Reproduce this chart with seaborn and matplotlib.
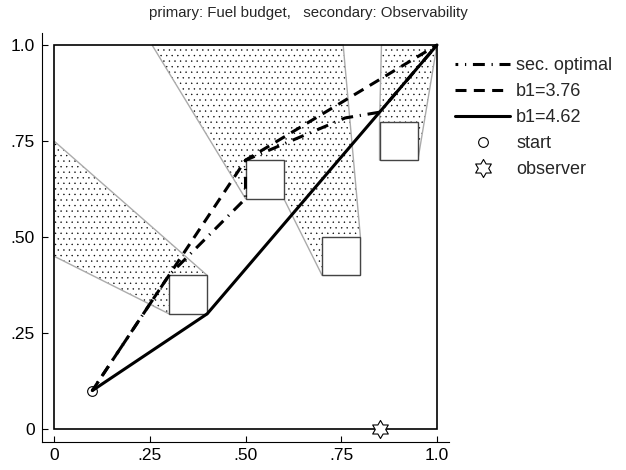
import matplotlib.pyplot as plt
import seaborn as sns
import numpy as np
from matplotlib.patches import Rectangle, Polygon
from matplotlib.path import Path

# %%
start = (0.1, 0.1)
observer = (0.85, 0.0)

obstacle_x = [0.3, 0.5, 0.7, 0.85]
obstacle_y = [0.3, 0.6, 0.4, 0.7]
obstacle_size = 0.1

# unobservable regions
shadow_a = [(0.3, 0.3), (0.0, 0.45), (0.0, 0.75), (0.4, 0.4), (0.4, 0.3)]
shadow_b = [(0.256, 1.0), (0.5, 0.6), (0.6, 0.6), (0.7, 0.4), (0.8, 0.4),
            (0.8, 0.5), (0.755, 1.0)]
shadow_c = [(0.85, 0.8), (0.855, 1.0), (1.0, 1.0), (0.95, 0.7), (0.85, 0.7)]

sec_x = [0.1, 0.3, 0.5, 0.5, 0.76, 0.85, 1.0]
sec_y = [0.1, 0.4, 0.6, 0.7, 0.81, 0.825, 1.0]
b376_x = [0.1, 0.5, 1.0]
b376_y = [0.1, 0.7, 1.0]
b462_x = [0.1, 0.4, 1.0]
b462_y = [0.1, 0.3, 1.0]

tick_values = [0, 0.25, 0.5, 0.75, 1.0]
tick_labels = ["0", ".25", ".50", ".75", "1.0"]

# %%
sns.set_style("ticks")
plt.rcParams["font.family"] = ["Liberation Sans", "DejaVu Sans"]
plt.rcParams["hatch.linewidth"] = 0.25

fig = plt.figure(figsize=(6.26, 4.7), dpi=100)
ax = fig.add_axes([42 / 626, 1 - 442 / 470, 407 / 626, 409 / 470])

for shadow in [shadow_a, shadow_b, shadow_c]:
    ax.add_patch(Polygon(shadow, closed=True, facecolor="none", edgecolor="black",
                         linewidth=0, hatch="...", zorder=1))
    ax.add_patch(Polygon(shadow, closed=True, facecolor="none", edgecolor="#ababab",
                         linewidth=1.0, zorder=1.5))

for ox, oy in zip(obstacle_x, obstacle_y):
    ax.add_patch(Rectangle((ox, oy), obstacle_size, obstacle_size, facecolor="white",
                           edgecolor="#444444", linewidth=1.0, zorder=2))

ax.add_patch(Rectangle((0, 0), 1, 1, facecolor="none", edgecolor="black",
                       linewidth=1.2, zorder=3))

sns.lineplot(x=sec_x, y=sec_y, sort=False, estimator=None, color="black", lw=2.2,
             linestyle=(3.0, (3.9, 2.2, 0.4, 2.2)), ax=ax, zorder=4)
sns.lineplot(x=b376_x, y=b376_y, sort=False, estimator=None, color="black", lw=2.2,
             linestyle=(0, (3.6, 2.4)), ax=ax, zorder=4)
sns.lineplot(x=b462_x, y=b462_y, sort=False, estimator=None, color="black", lw=2.2,
             linestyle="-", ax=ax, zorder=4)
lines = ax.get_lines()

hexagram = Path.unit_regular_star(6, 0.577)
h_start, = ax.plot([start[0]], [start[1]], linestyle="none", marker="o", markersize=7,
                   markerfacecolor="none", markeredgecolor="black", markeredgewidth=0.8,
                   zorder=5)
h_obs, = ax.plot([observer[0]], [observer[1]], linestyle="none", marker=hexagram,
                 markersize=13, markerfacecolor="white", markeredgecolor="black",
                 markeredgewidth=0.8, zorder=5, clip_on=False)

ax.set_xlim(-12 / 383, 1 + 12 / 383)
ax.set_ylim(-13 / 384, 1 + 12 / 384)
ax.set_xticks(tick_values)
ax.set_xticklabels(tick_labels)
ax.set_yticks(tick_values)
ax.set_yticklabels(tick_labels)
ax.tick_params(direction="in", length=4, width=0.8, labelsize=12.5, colors="black")
ax.tick_params(axis="y", pad=5)
ax.tick_params(axis="x", pad=4.5)
sns.despine(ax=ax)
for side in ["left", "bottom"]:
    ax.spines[side].set_linewidth(0.8)
    ax.spines[side].set_color("black")

ax.legend([lines[0], lines[1], lines[2], h_start, h_obs],
          ["sec. optimal", "b1=3.76", "b1=4.62", "start", "observer"],
          loc="upper left", bbox_to_anchor=(413 / 407, (442 - 57) / 409),
          frameon=False, fontsize=13, handlelength=3.05, handletextpad=0.33,
          labelspacing=0.5, borderpad=0, borderaxespad=0)

fig.suptitle("primary: Fuel budget,   secondary: Observability", x=308 / 626,
             y=1 - 13 / 470, va="center", fontsize=10.85)

plt.savefig("out.png", dpi=100)
